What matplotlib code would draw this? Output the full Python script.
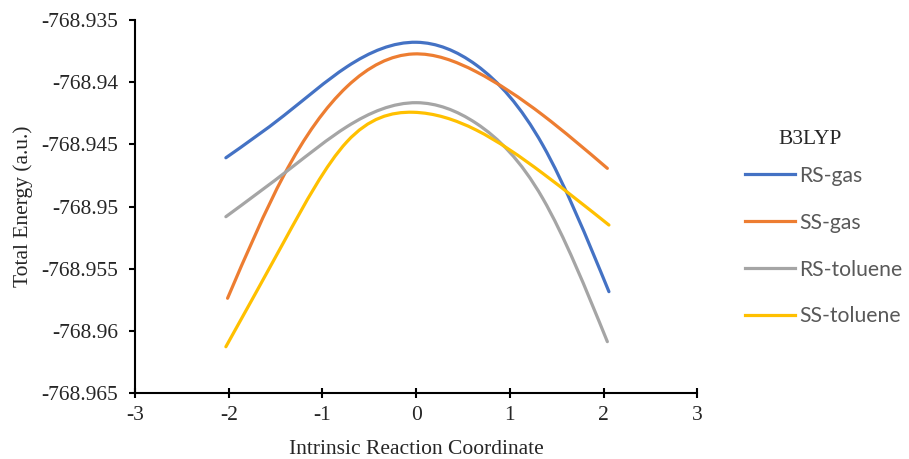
import numpy as np
import matplotlib
matplotlib.use("Agg")
import matplotlib.pyplot as plt
from matplotlib.path import Path
from matplotlib.patches import PathPatch
from matplotlib.lines import Line2D
from matplotlib.ticker import FuncFormatter

# values
rs_gas_x = [-2.03, -1.41, -0.738, 0.005, 0.642, 1.351, 2.058]
rs_gas_y = [-768.94608, -768.94268, -768.93876, -768.93679, -768.93862, -768.94505, -768.95685]

ss_gas_x = [-2.012, -1.41, -0.738, -0.03, 0.642, 1.351, 2.041]
ss_gas_y = [-768.95738, -768.94747, -768.94036, -768.93773, -768.93916, -768.94264, -768.94693]

rs_tol_x = [-2.03, -1.34, -0.738, 0.005, 0.642, 1.351, 2.041]
rs_tol_y = [-768.95082, -768.94693, -768.94358, -768.94165, -768.94331, -768.94934, -768.96087]

ss_tol_x = [-2.03, -1.41, -0.738, -0.03, 0.642, 1.351, 2.058]
ss_tol_y = [-768.96128, -768.95283, -768.94479, -768.94242, -768.94385, -768.94733, -768.95149]

series_names = ["RS-gas", "SS-gas", "RS-toluene", "SS-toluene"]
colors = ["#4472C4", "#ED7D31", "#A5A5A5", "#FFC000"]

x_ticks = [-3, -2, -1, 0, 1, 2, 3]
y_ticks = [-768.965, -768.96, -768.955, -768.95, -768.945, -768.94, -768.935]


def smooth_path(x, y):
    # natural cubic spline through the points, drawn as Bezier segments
    x = np.asarray(x, float)
    y = np.asarray(y, float)
    n = len(x)
    h = np.diff(x)
    A = np.zeros((n, n))
    b = np.zeros(n)
    A[0, 0] = A[-1, -1] = 1.0
    for i in range(1, n - 1):
        A[i, i - 1] = h[i - 1]
        A[i, i] = 2 * (h[i - 1] + h[i])
        A[i, i + 1] = h[i]
        b[i] = 6 * ((y[i + 1] - y[i]) / h[i] - (y[i] - y[i - 1]) / h[i - 1])
    M = np.linalg.solve(A, b)
    s = np.empty(n)
    s[:-1] = (y[1:] - y[:-1]) / h - h * (2 * M[:-1] + M[1:]) / 6
    s[-1] = (y[-1] - y[-2]) / h[-1] + h[-1] * (M[-2] + 2 * M[-1]) / 6

    verts = [(x[0], y[0])]
    codes = [Path.MOVETO]
    for i in range(n - 1):
        d = h[i] / 3
        verts += [(x[i] + d, y[i] + s[i] * d), (x[i + 1] - d, y[i + 1] - s[i + 1] * d), (x[i + 1], y[i + 1])]
        codes += [Path.CURVE4] * 3
    return Path(verts, codes)


serif = "Liberation Serif"
fig = plt.figure(figsize=(9.09, 4.59), dpi=100)
ax = fig.add_axes([0.1485, 0.1438, 0.6185, 0.8126])

data = [(rs_gas_x, rs_gas_y), (ss_gas_x, ss_gas_y), (rs_tol_x, rs_tol_y), (ss_tol_x, ss_tol_y)]
handles = []
for (xs, ys), name, c in zip(data, series_names, colors):
    patch = PathPatch(smooth_path(xs, ys), facecolor="none", edgecolor=c, lw=2.3,
                      capstyle="round", joinstyle="round")
    ax.add_patch(patch)
    handles.append(Line2D([], [], color=c, lw=2.3, label=name))

ax.set_xlim(-3, 3)
ax.set_ylim(-768.965, -768.935)
ax.set_xticks(x_ticks)
ax.set_yticks(y_ticks)
ax.xaxis.set_major_formatter(FuncFormatter(lambda v, p: "%d" % round(v)))
ax.yaxis.set_major_formatter(FuncFormatter(lambda v, p: ("%.3f" % v).rstrip("0")))

for s in ["top", "right"]:
    ax.spines[s].set_visible(False)
for s in ["left", "bottom"]:
    ax.spines[s].set_linewidth(1.5)
    ax.spines[s].set_color("black")

ax.tick_params(axis="y", direction="out", length=4, width=1.5, pad=8)
ax.tick_params(axis="x", direction="inout", length=7, width=1.5, pad=6)
for lbl in ax.get_xticklabels() + ax.get_yticklabels():
    lbl.set_fontfamily(serif)
    lbl.set_fontsize(15.5)
    lbl.set_color("#262626")

ax.set_xlabel("Intrinsic Reaction Coordinate", fontfamily=serif, fontsize=15.5,
              color="#262626", labelpad=11)
ax.set_ylabel("Total Energy (a.u.)", fontfamily=serif, fontsize=15.5,
              color="#262626", labelpad=6)

# legend title placed separately (it sits left of the legend centre in the reference)
fig.text(810 / 909, 1 - 139 / 459, "B3LYP", ha="center", va="center",
         fontfamily=serif, fontsize=15.5, color="#262626")
leg = fig.legend(handles=handles, loc="upper left", bbox_to_anchor=(0.799, 0.68),
                 frameon=False, handlelength=2.35, handletextpad=0.22, labelspacing=1.27,
                 prop={"family": "Lato", "size": 15.2})
for t in leg.get_texts():
    t.set_color("#595959")

fig.savefig("out.png", dpi=100)
